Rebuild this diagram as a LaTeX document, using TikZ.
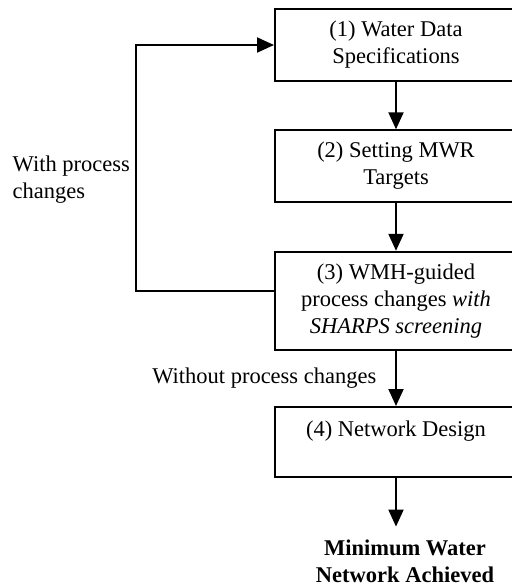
\documentclass[tikz,border=0pt]{standalone}
\usepackage{fontspec}
\setmainfont{Liberation Serif}
\usetikzlibrary{arrows.meta}

\begin{document}
\begin{tikzpicture}[x=0.5pt,y=-0.5pt,line width=1pt,
  font=\fontsize{11.25pt}{13.5pt}\selectfont,
  stage/.style={draw,rectangle,align=center,minimum width=121pt,minimum height=35pt,inner sep=6pt},
  arr/.style={-{Triangle[length=8.5pt,width=7.5pt]}}]
  \useasboundingbox (0,0) rectangle (511,585);
  \node[stage] (spec) at (396,45) {(1) Water Data\\Specifications};
  \node[stage] (targets) at (396,166) {(2) Setting MWR\\Targets};
  \node[stage] (wmh) at (396,301) {(3) WMH-guided\\process changes \textit{with}\\\textit{SHARPS screening}};
  \node[stage] (design) at (396,442) {(4) Network Design\\~};
  \node[align=center,inner sep=6pt,font=\fontsize{11.25pt}{13.5pt}\selectfont\bfseries] (result) at (405,561) {Minimum Water\\Network Achieved};
  \draw[arr] (spec) -- (targets);
  \draw[arr] (targets) -- (wmh);
  \draw[arr] (wmh) -- node[left=6pt] (nochange) {Without process changes} (design);
  \draw[arr] (design) -- (design.south |- result.north);
  \draw[arr] ([yshift=5pt]wmh.west) -- ++(-138,0) |- (spec.west);
  \node[anchor=west,align=left] (withchange) at (5,180) {With process\\changes};
\end{tikzpicture}
\end{document}
